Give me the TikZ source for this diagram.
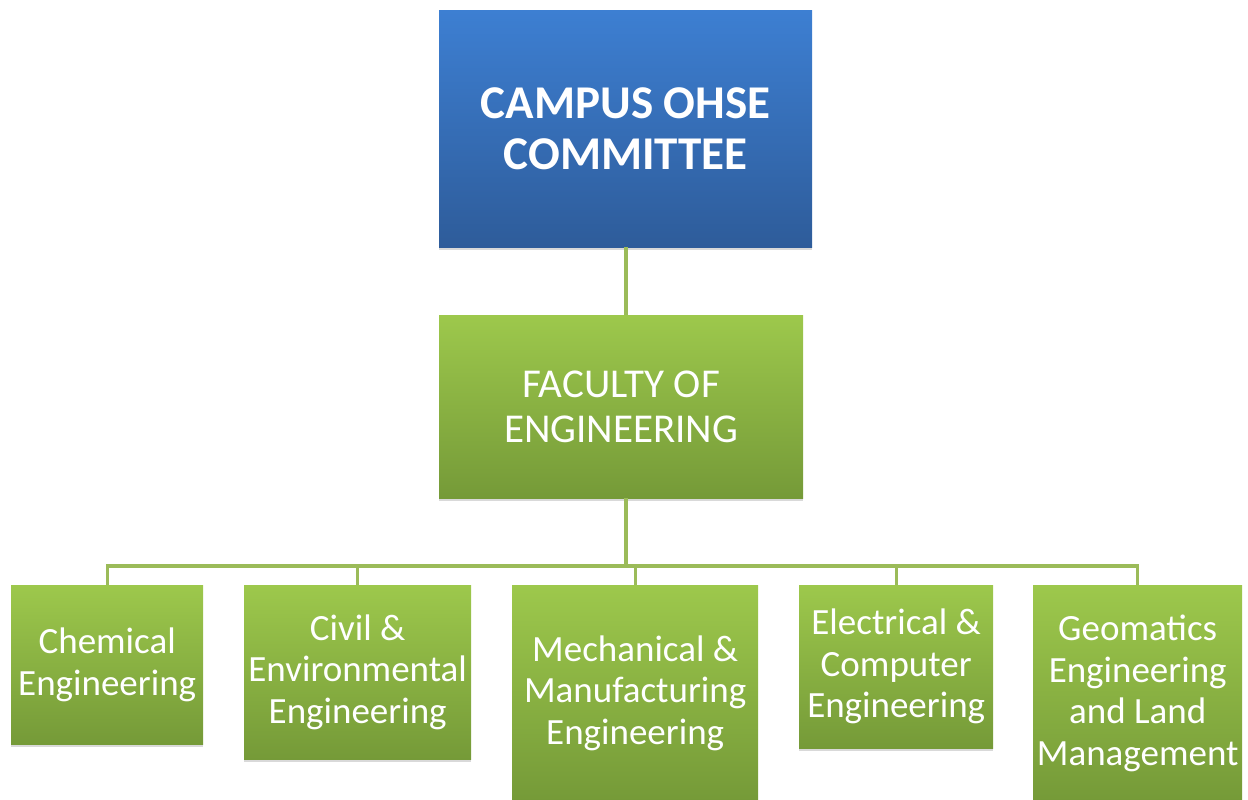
\documentclass[tikz,border=0pt]{standalone}
\usepackage{fontspec}
\setmainfont{Carlito}
\usetikzlibrary{shadows}
\definecolor{bluetop}{HTML}{3D7FD2}
\definecolor{bluebot}{HTML}{2E5C9A}
\definecolor{greentop}{HTML}{9DC84C}
\definecolor{greenbot}{HTML}{759A38}
\definecolor{linkgreen}{HTML}{9BBB59}
\tikzset{
  box/.style={draw=none, anchor=north west, inner sep=0pt, align=center, text=white,
    drop shadow={shadow xshift=0pt, shadow yshift=-3pt, opacity=0.25, fill=black!60}},
  bluebox/.style={box, top color=bluetop, bottom color=bluebot,
    font=\fontsize{47}{51}\selectfont\bfseries},
  greenbox/.style={box, top color=greentop, bottom color=greenbot},
  facfont/.style={font=\fontsize{41}{45}\selectfont},
  deptfont/.style={font=\fontsize{37}{41.5}\selectfont},
  link/.style={draw=linkgreen, line width=3.2pt}
}
\begin{document}
\begin{tikzpicture}[x=1pt,y=-1pt]
\useasboundingbox (0,0) rectangle (1248,800);
\node[bluebox, minimum width=373pt, minimum height=237pt] (top) at (439,10) {CAMPUS OHSE\\COMMITTEE};
\node[greenbox, facfont, minimum width=364pt, minimum height=183pt] (fac) at (439,315) {FACULTY OF\\ENGINEERING};
\node[greenbox, deptfont, minimum width=192pt, minimum height=159pt] (chem) at (11,585) {Chemical\\Engineering};
\node[greenbox, deptfont, minimum width=227pt, minimum height=174pt] (civil) at (244,585) {Civil \&\\Environmental\\Engineering};
\node[greenbox, deptfont, minimum width=246pt, minimum height=216pt] (mech) at (512,585) {Mechanical \&\\Manufacturing\\Engineering};
\node[greenbox, deptfont, minimum width=194pt, minimum height=163pt] (elec) at (799,585) {Electrical \&\\Computer\\Engineering};
\node[greenbox, deptfont, minimum width=209pt, minimum height=216pt] (geo) at (1033,585) {Geomatics\\Engineering\\and Land\\Management};
\coordinate (bus) at (626,566);
\draw[link] (bus |- top.south) -- (bus |- fac.north);
\draw[link] (bus |- fac.south) -- (bus);
\foreach \n in {chem,civil,mech,elec,geo}{
  \draw[link] (bus) -| (\n.north);
}
\end{tikzpicture}
\end{document}
